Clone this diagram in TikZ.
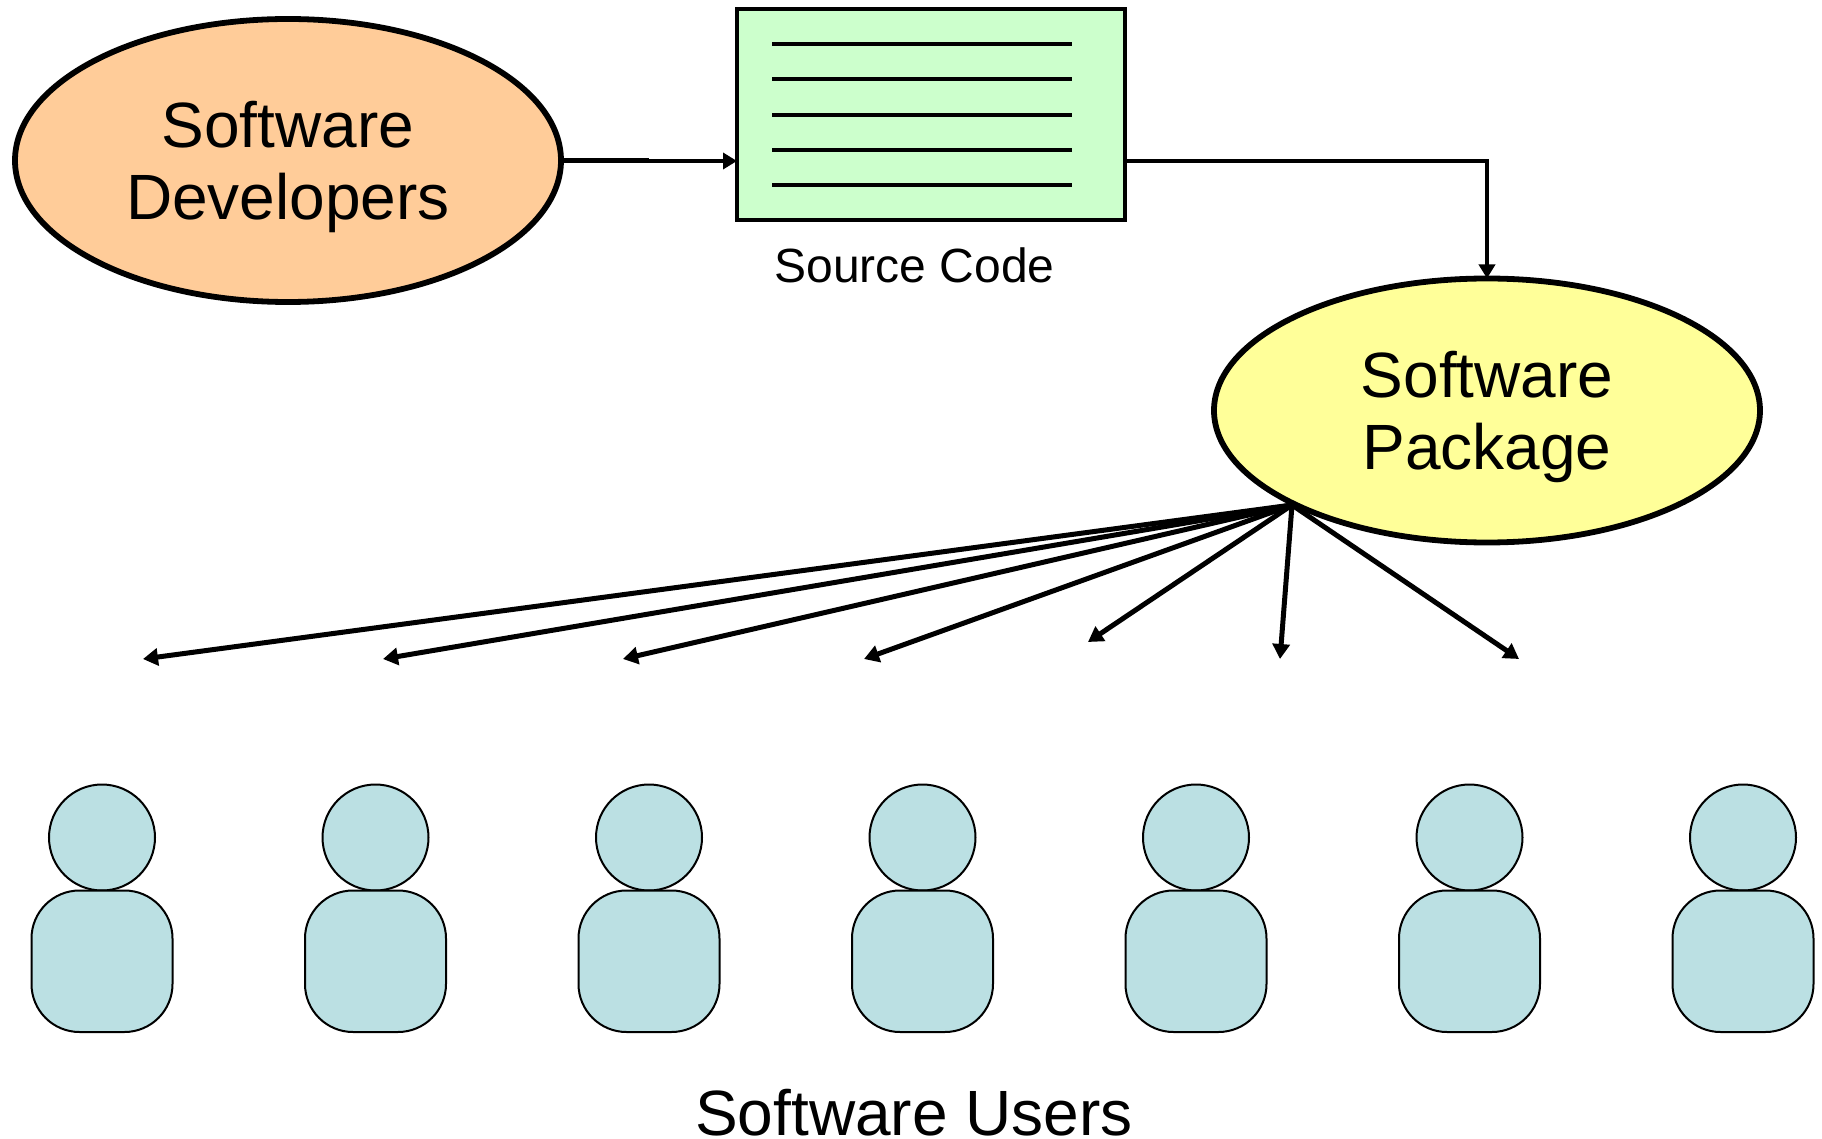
\documentclass[tikz,border=0pt]{standalone}
\usepackage{fontspec}
\setmainfont{Liberation Sans}
\usetikzlibrary{arrows.meta,shapes.geometric}
\begin{document}
\begin{tikzpicture}[x=0.5pt,y=-0.5pt,
    blob/.style={draw,ellipse,line width=2.9pt,outer sep=0pt,inner sep=0pt,minimum width=273pt,align=center,font=\fontsize{32}{36}\selectfont},
    feed/.style={line width=2.1pt,-{Triangle[length=7pt,width=8pt]}},
    fan/.style={line width=2.5pt,-{Triangle[length=7.5pt,width=8.5pt]}},
    head/.style={draw,circle,line width=1pt,fill=userblue,outer sep=0pt,inner sep=0pt,minimum size=53pt},
    torso/.style={draw,line width=1pt,fill=userblue,rounded corners=24pt}]
    \definecolor{userblue}{HTML}{BBE0E3}
    \useasboundingbox (0,0) rectangle (1822,1139);
    \def\firstX{102}
    \def\stepX{273.5}
    \def\topgap{\rule{0pt}{29.4pt}} % pushes the two lines down a little
    \node[blob,fill={rgb,255:red,255;green,204;blue,153},minimum height=141.5pt] (dev) at (288,160.5) {\topgap Software\\Developers};
    \node[blob,fill={rgb,255:red,255;green,255;blue,153},minimum height=132pt] (pkg) at (1487,410.5) {\topgap Software\\Package};
    \node[draw,line width=1.9pt,fill={rgb,255:red,204;green,255;blue,204},outer sep=0pt,inner sep=0pt,minimum width=194pt,minimum height=105.5pt] (src) at (931,114.5) {};
    \foreach \Y in {44,79,115,150,185}
        {
        \draw[line width=1.8pt] (772,\Y) -- (1072,\Y);
        }
    \node[anchor=base,font=\fontsize{24}{28}\selectfont] (srclabel) at (914.5,283) {Source Code};
    % developers to source, with the small jog half way
    \coordinate (jog) at (649,161);
    \draw[line width=2.1pt] (dev.east) -- (dev.east -| jog);
    \draw[feed] (jog) -- (jog -| src.west);
    % source to package
    \draw[feed] (jog -| src.east) -| (pkg.north);
    % fan of arrows
    \coordinate (fanroot) at (1292,505);
    \foreach \N/\X/\Y in {a/143/659, b/383/659, c/623/659, d/864/659, e/1088/642, f/1280/659, g/1519/659}
        {
        \coordinate (end\N) at (\X,\Y);
        \draw[fan] (fanroot) -- (end\N);
        }
    % row of users
    \foreach \I in {0,...,6}
        {
        \node[head] (head\I) at ({\firstX + \I * \stepX},837.5) {};
        \draw[torso] ({\firstX + \I * \stepX - 70.5},890.5) rectangle ({\firstX + \I * \stepX + 70.5},1032);
        }
    \node[anchor=base,font=\fontsize{32}{36}\selectfont] (users) at (914,1135) {Software Users};
\end{tikzpicture}
\end{document}
